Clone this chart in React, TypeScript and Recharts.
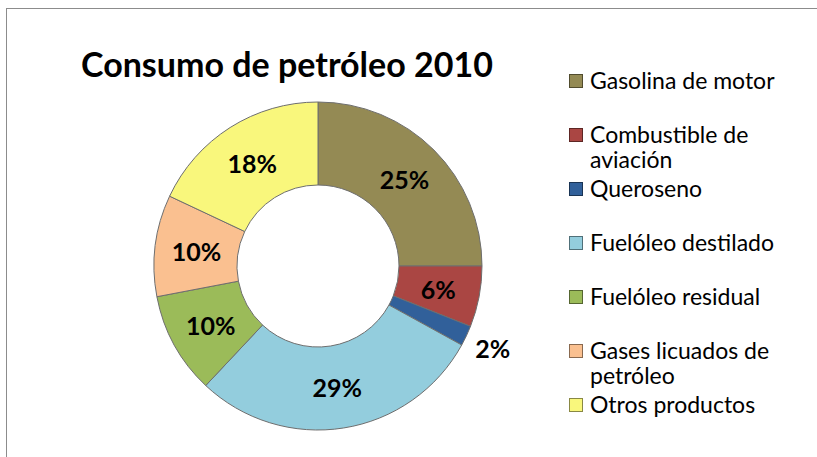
import { PieChart, Pie, Cell, Legend } from "recharts";

const categories = [
  "Gasolina de motor",
  "Combustible de aviación",
  "Queroseno",
  "Fuelóleo destilado",
  "Fuelóleo residual",
  "Gases licuados de petróleo",
  "Otros productos",
];
const shares = [25, 6, 2, 29, 10, 10, 18];
const colors = ["#948A54", "#AA4643", "#31609A", "#93CDDD", "#9BBB59", "#FAC090", "#F9F77C"];
// legend lines as they wrap in the original
const legendLines = [
  ["Gasolina de motor"],
  ["Combustible de", "aviación"],
  ["Queroseno"],
  ["Fuelóleo destilado"],
  ["Fuelóleo residual"],
  ["Gases licuados de", "petróleo"],
  ["Otros productos"],
];

const data = categories.map((name, i) => ({ name, value: shares[i] }));

const FONT = "Lato, 'Open Sans', sans-serif";
const RADIAN = Math.PI / 180;

const renderLabel = (props: any) => {
  const { cx, cy, midAngle, innerRadius, outerRadius, value } = props;
  // small slice gets its label outside the ring
  const r = value < 4 ? outerRadius + 29 : (innerRadius + outerRadius) / 2;
  const x = cx + r * Math.cos(-midAngle * RADIAN);
  const y = cy + r * Math.sin(-midAngle * RADIAN);
  return (
    <text
      x={x}
      y={y}
      textAnchor="middle"
      dominantBaseline="central"
      fontFamily={FONT}
      fontWeight="bold"
      fontSize={25}
      fill="#000"
    >
      {`${value}%`}
    </text>
  );
};

const LegendContent = () => (
  <div style={{ fontFamily: FONT, fontSize: 23, color: "#000" }}>
    {legendLines.map((lines, i) => (
      <div key={i} style={{ position: "absolute", left: 0, top: i * 54, whiteSpace: "nowrap" }}>
        <span
          style={{
            position: "absolute",
            left: 0,
            top: 7,
            width: 12,
            height: 12,
            background: colors[i],
            border: "1px solid rgba(0,0,0,0.45)",
          }}
        />
        {lines.map((t, j) => (
          <div key={j} style={{ position: "absolute", left: 21, top: j * 25.5 + 0.5, lineHeight: "24px" }}>
            {t}
          </div>
        ))}
      </div>
    ))}
  </div>
);

export default function App() {
  return (
    <div style={{ position: "relative", width: 817, height: 457, overflow: "hidden", background: "#fff" }}>
      <style>{"body{margin:0}"}</style>
      <div
        style={{
          position: "absolute",
          left: 6,
          top: 8,
          width: 900,
          height: 600,
          border: "1.5px solid #8c8c8c",
        }}
      />
      <div
        style={{
          position: "absolute",
          left: 81,
          top: 43,
          fontFamily: FONT,
          fontWeight: "bold",
          fontSize: 34,
          whiteSpace: "nowrap",
          color: "#000",
        }}
      >
        Consumo de petróleo 2010
      </div>
      <PieChart width={817} height={457} style={{ position: "absolute", left: 0, top: 0 }}>
        <Pie
          data={data}
          dataKey="value"
          nameKey="name"
          cx={313}
          cy={261}
          innerRadius={81}
          outerRadius={164}
          startAngle={90}
          endAngle={-270}
          stroke="#6e6e6e"
          strokeWidth={1}
          label={renderLabel}
          labelLine={false}
          isAnimationActive={false}
        >
          {data.map((d, i) => (
            <Cell key={d.name} fill={colors[i]} />
          ))}
        </Pie>
        <Legend
          layout="vertical"
          content={<LegendContent />}
          wrapperStyle={{ position: "absolute", left: 569, top: 67, width: 245, height: 380 }}
        />
      </PieChart>
    </div>
  );
}
